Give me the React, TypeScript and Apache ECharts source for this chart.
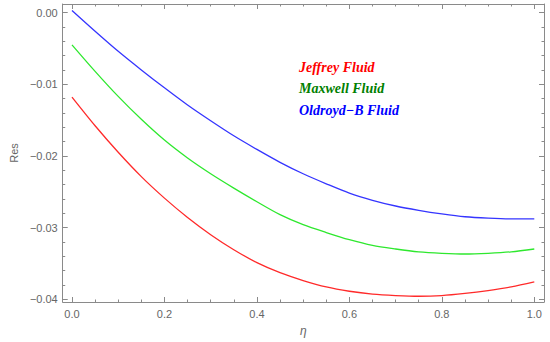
import React, { useEffect, useRef } from "react";
import * as echarts from "echarts";

const eta = [0, 0.05, 0.1, 0.15, 0.2, 0.25, 0.3, 0.35, 0.4, 0.45, 0.5, 0.55, 0.6, 0.65, 0.7, 0.75, 0.8, 0.85, 0.9, 0.95, 1.0];
const jeffrey = [-0.0118, -0.0158, -0.0195, -0.0229, -0.0259, -0.0286, -0.031, -0.0331, -0.0349, -0.0363, -0.0374, -0.0383, -0.0389, -0.0393, -0.0395, -0.0396, -0.0395, -0.0392, -0.0388, -0.0383, -0.0376];
const maxwell = [-0.0045, -0.0082, -0.0117, -0.0149, -0.0178, -0.0203, -0.0225, -0.0245, -0.0264, -0.0282, -0.0296, -0.0307, -0.0317, -0.0325, -0.033, -0.0334, -0.0336, -0.0337, -0.0336, -0.0334, -0.033];
const oldroydB = [0.0003, -0.0026, -0.0054, -0.008, -0.0105, -0.0129, -0.0151, -0.0172, -0.0191, -0.0209, -0.0225, -0.0239, -0.0252, -0.0262, -0.027, -0.0276, -0.0281, -0.0285, -0.0287, -0.0288, -0.0288];

const xMajor = [0, 0.2, 0.4, 0.6, 0.8, 1.0];
const xMinor = [0, 0.05, 0.1, 0.15, 0.2, 0.25, 0.3, 0.35, 0.4, 0.45, 0.5, 0.55, 0.6, 0.65, 0.7, 0.75, 0.8, 0.85, 0.9, 0.95, 1.0];
const yMajor = [0, -0.01, -0.02, -0.03, -0.04];
const yMinor = [0, -0.002, -0.004, -0.006, -0.008, -0.01, -0.012, -0.014, -0.016, -0.018, -0.02, -0.022, -0.024, -0.026, -0.028, -0.03, -0.032, -0.034, -0.036, -0.038, -0.04];

const legendItems = [
  { text: "Jeffrey Fluid", color: "#ff0000" },
  { text: "Maxwell Fluid", color: "#008000" },
  { text: "Oldroyd\u2212B Fluid", color: "#0000ff" },
];

const frameColor = "#8a8a8a";
const labelColor = "#666666";
const sans = "'Liberation Sans', Arial, sans-serif";

function zip(xs: number[], ys: number[]) {
  return xs.map((x, i) => [x, ys[i]]);
}

export default function App() {
  const ref = useRef<HTMLDivElement>(null);
  useEffect(() => {
    if (!ref.current) return;
    const chart = echarts.init(ref.current, null, { renderer: "svg" });
    const xRange = { min: -0.02, max: 1.021 };
    const yRange = { min: -0.0404, max: 0.0012 };
    const xAx = (position: string, major: boolean, withLabel: boolean, withLine: boolean) => ({
      type: "value",
      position,
      ...xRange,
      axisLine: { show: withLine, onZero: false, lineStyle: { color: frameColor, width: 1 } },
      axisTick: {
        show: true,
        inside: true,
        length: major ? 5 : 2.5,
        customValues: major ? xMajor : xMinor,
        lineStyle: { color: frameColor },
      },
      axisLabel: withLabel
        ? {
            show: true,
            customValues: xMajor,
            formatter: (v: number) => v.toFixed(1),
            color: labelColor,
            fontSize: 11,
            fontFamily: sans,
            margin: 6,
          }
        : { show: false },
      splitLine: { show: false },
    });
    const yAx = (position: string, major: boolean, withLabel: boolean, withLine: boolean) => ({
      type: "value",
      position,
      ...yRange,
      axisLine: { show: withLine, onZero: false, lineStyle: { color: frameColor, width: 1 } },
      axisTick: {
        show: true,
        inside: true,
        length: major ? 5 : 2.5,
        customValues: major ? yMajor : yMinor,
        lineStyle: { color: frameColor },
      },
      axisLabel: withLabel
        ? {
            show: true,
            customValues: yMajor,
            formatter: (v: number) => (Math.abs(v) < 1e-9 ? "0.00" : (v < 0 ? "\u2212" : "") + Math.abs(v).toFixed(2)),
            color: labelColor,
            fontSize: 11,
            fontFamily: sans,
            margin: 5,
          }
        : { show: false },
      splitLine: { show: false },
    });

    const xAxes: any[] = [
      { ...xAx("bottom", true, true, true), name: "\u03b7", nameLocation: "middle", nameGap: 23, nameTextStyle: { color: labelColor, fontSize: 12, fontStyle: "italic", fontFamily: sans } },
      xAx("bottom", false, false, false),
      xAx("top", true, false, true),
      xAx("top", false, false, false),
    ];
    const yAxes: any[] = [
      { ...yAx("left", true, true, true), name: "Res", nameLocation: "middle", nameGap: 37, nameRotate: 90, nameTextStyle: { color: labelColor, fontSize: 11, fontFamily: sans } },
      yAx("left", false, false, false),
      yAx("right", true, false, true),
      yAx("right", false, false, false),
    ];

    chart.setOption({
      animation: false,
      backgroundColor: "#ffffff",
      grid: { left: 53, right: 6, top: 4, bottom: 35, containLabel: false },
      xAxis: xAxes,
      yAxis: yAxes,
      series: [
        { name: "Jeffrey Fluid", type: "line", data: zip(eta, jeffrey), smooth: 0.3, showSymbol: false, lineStyle: { color: "#ff2a2a", width: 1.3 }, xAxisIndex: 0, yAxisIndex: 0 },
        { name: "Maxwell Fluid", type: "line", data: zip(eta, maxwell), smooth: 0.3, showSymbol: false, lineStyle: { color: "#2ee82e", width: 1.3 }, xAxisIndex: 0, yAxisIndex: 0 },
        { name: "Oldroyd-B Fluid", type: "line", data: zip(eta, oldroydB), smooth: 0.3, showSymbol: false, lineStyle: { color: "#3535ff", width: 1.3 }, xAxisIndex: 0, yAxisIndex: 0 },
      ],
      graphic: legendItems.map((it, i) => ({
        type: "text",
        x: 299,
        y: 67 + i * 21.8,
        style: {
          text: it.text,
          fill: it.color,
          font: "italic bold 14px 'Liberation Serif', 'Times New Roman', serif",
          textVerticalAlign: "middle",
          verticalAlign: "middle",
        },
      })),
    });
    return () => chart.dispose();
  }, []);
  return <div ref={ref} style={{ position: "fixed", left: 0, top: 0, width: 550, height: 342 }} />;
}
